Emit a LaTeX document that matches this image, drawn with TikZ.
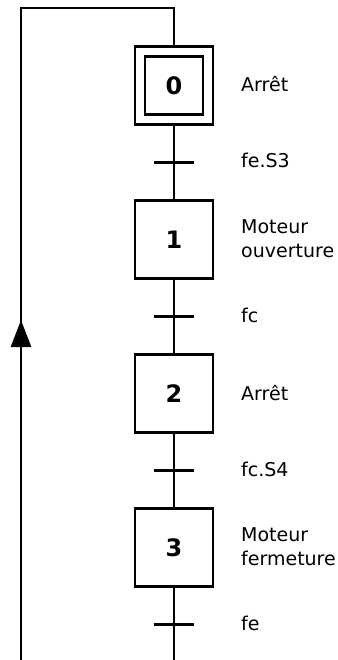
\documentclass[tikz,border=0pt]{standalone}
\usepackage{fontspec}
\setmainfont{DejaVu Sans}
\usetikzlibrary{positioning,arrows.meta}
\tikzset{
	etape/.style={draw, line width=2.8pt, minimum size=78pt, inner sep=0pt, font=\fontsize{24}{24}\selectfont\bfseries},
	etapeinit/.style={etape, minimum size=68pt, double, double distance=7.2pt, outer sep=6.4pt},
	lien/.style={line width=2.8pt},
	texte/.style={anchor=base west, inner sep=0pt, align=left, font=\fontsize{19}{23.5}\selectfont}
}

\begin{document}
\begin{tikzpicture}[x=1pt, y=-1pt]
			%%%%% START %%%%%
			\useasboundingbox (0, 0) rectangle (337, 660);
			
			\node[etapeinit] (s0) at (174, 85.5) {0};
			\node[etape] (s1) at (174, 239.5) {1};
			\node[etape] (s2) at (174, 393.5) {2};
			\node[etape] (s3) at (174, 547.5) {3};
			
			\coordinate (t0) at (174, 162.5);
			\coordinate (t1) at (174, 316.5);
			\coordinate (t2) at (174, 470.5);
			\coordinate (t3) at (174, 624.5);
			
			\coordinate (haut) at (174, 8);
			\coordinate (coin) at (21, 8);
			\coordinate (gauche) at (21, 660);
			\coordinate (bas) at (174, 660);
			\coordinate (fleche) at (21, 320);
			
			\draw[lien] (s0) -- (s1);
			\draw[lien] (s1) -- (s2);
			\draw[lien] (s2) -- (s3);
			\draw[lien] (s3) -- (bas);
			\draw[lien] (s0) -- (haut) -- (coin) -- (gauche);
			\draw[lien, -{Triangle[length=27pt, width=20pt]}] (gauche) -- (fleche);
			
			\foreach \t in {t0, t1, t2, t3}
				\draw[lien] (\t) +(-20, 0) -- +(20, 0);
			
			\node[texte] (a0) at (241, 92) {Arrêt};
			\node[texte] (a1) at (241, 257) {Moteur\\ouverture};
			\node[texte] (a2) at (241, 400) {Arrêt};
			\node[texte] (a3) at (241, 565) {Moteur\\fermeture};
			
			\node[texte] (r0) at (241, 168) {fe.S3};
			\node[texte] (r1) at (241, 322) {fc};
			\node[texte] (r2) at (241, 476) {fc.S4};
			\node[texte] (r3) at (241, 630) {fe};
			
			%%%%% END %%%%%
\end{tikzpicture}
\end{document}
